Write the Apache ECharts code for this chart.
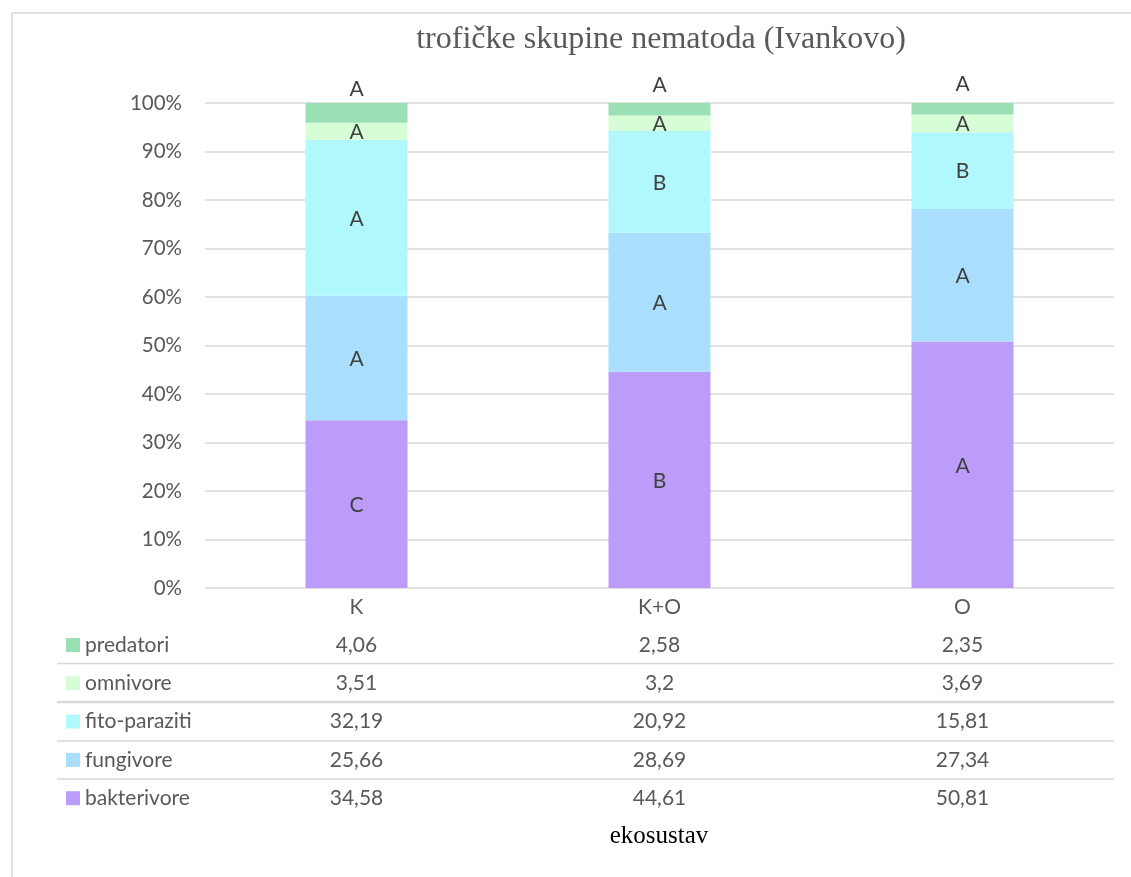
<!DOCTYPE html>
<html>
<head>
<meta charset="utf-8">
<script src="https://cdn.jsdelivr.net/npm/echarts@6/dist/echarts.min.js"></script>
<style>
html,body{margin:0;padding:0;background:#fff;}
#c{width:1131px;height:877px;}
</style>
</head>
<body>
<div id="c"></div>
<script>
const categories = ['K', 'K+O', 'O'];
const seriesNames = ['predatori', 'omnivore', 'fito-paraziti', 'fungivore', 'bakterivore'];
const predatori = [4.06, 2.58, 2.35];
const omnivore = [3.51, 3.2, 3.69];
const fitoParaziti = [32.19, 20.92, 15.81];
const fungivore = [25.66, 28.69, 27.34];
const bakterivore = [34.58, 44.61, 50.81];
const lettersPredatori = ['A', 'A', 'A'];
const lettersOmnivore = ['A', 'A', 'A'];
const lettersFito = ['A', 'B', 'B'];
const lettersFungivore = ['A', 'A', 'A'];
const lettersBakterivore = ['C', 'B', 'A'];
const yTicks = [0, 10, 20, 30, 40, 50, 60, 70, 80, 90, 100];
const colors = {
  'predatori': '#9BDFB5',
  'omnivore': '#D7FDD6',
  'fito-paraziti': '#B1F8FD',
  'fungivore': '#A9DFFD',
  'bakterivore': '#BB9CF8'
};

const valuesByName = {
  'predatori': predatori,
  'omnivore': omnivore,
  'fito-paraziti': fitoParaziti,
  'fungivore': fungivore,
  'bakterivore': bakterivore
};
const lettersByName = {
  'predatori': lettersPredatori,
  'omnivore': lettersOmnivore,
  'fito-paraziti': lettersFito,
  'fungivore': lettersFungivore,
  'bakterivore': lettersBakterivore
};

const FONT = 'Lato, "Noto Sans", sans-serif';
const fmt = v => String(v).replace('.', ',');

const chart = echarts.init(document.getElementById('c'), null, {renderer: 'canvas'});

const stackOrder = ['bakterivore', 'fungivore', 'fito-paraziti', 'omnivore', 'predatori'];
const series = stackOrder.map(name => ({
  name: name,
  type: 'bar',
  stack: 'total',
  barWidth: 102,
  itemStyle: {color: colors[name]},
  data: valuesByName[name],
  label: {
    show: true,
    position: 'inside',
    offset: name === 'predatori' ? [0, -24] : [0, 1],
    fontFamily: FONT,
    fontSize: 21,
    color: '#404040',
    formatter: p => lettersByName[name][p.dataIndex]
  },
  emphasis: {disabled: true}
}));

const tableLines = [663.5, 702, 741, 779];

chart.setOption({
  animation: false,
  backgroundColor: '#fff',
  grid: {left: 205, right: 17, top: 103, bottom: 289, containLabel: false},
  legend: {
    orient: 'vertical',
    left: 61,
    top: 621,
    itemWidth: 14,
    itemHeight: 14,
    itemGap: 0.3,
    icon: 'rect',
    selectedMode: false,
    data: seriesNames,
    textStyle: {fontFamily: FONT, fontSize: 21, color: '#595959', lineHeight: 38}
  },
  xAxis: {
    type: 'category',
    data: categories,
    axisLine: {show: false},
    axisTick: {show: false},
    axisLabel: {
      margin: 0,
      interval: 0,
      fontFamily: FONT,
      fontSize: 21,
      color: '#595959',
      lineHeight: 38.2,
      formatter: (val, idx) => {
        const lines = [val];
        seriesNames.forEach(n => lines.push(fmt(valuesByName[n][idx])));
        return lines.join('\n');
      }
    }
  },
  yAxis: {
    type: 'value',
    min: 0,
    max: 100,
    interval: 10,
    axisLine: {show: false},
    axisTick: {show: false},
    splitLine: {lineStyle: {color: '#D9D9D9', width: 1.5}},
    axisLabel: {
      margin: 23,
      fontFamily: FONT,
      fontSize: 20.5,
      color: '#595959',
      formatter: '{value}%'
    }
  },
  graphic: [
    {
      type: 'rect',
      shape: {x: 12, y: 13, width: 1300, height: 1000},
      style: {fill: 'none', stroke: '#D9D9D9', lineWidth: 1.5},
      silent: true
    },
    {
      type: 'text',
      x: 661, y: 40,
      style: {
        text: 'trofičke skupine nematoda (Ivankovo)',
        font: '32px "Liberation Serif", "Times New Roman", serif',
        fill: '#595959',
        textAlign: 'center',
        textVerticalAlign: 'middle'
      }
    },
    {
      type: 'text',
      x: 659, y: 836,
      style: {
        text: 'ekosustav',
        font: '25px "Liberation Serif", "Times New Roman", serif',
        fill: '#000000',
        textAlign: 'center',
        textVerticalAlign: 'middle'
      }
    }
  ].concat(tableLines.map((y, i) => ({
    type: 'line',
    shape: {x1: 57, y1: y, x2: 1114, y2: y},
    style: {stroke: '#D9D9D9', lineWidth: i === 1 ? 2.5 : 1.5},
    silent: true
  }))),
  series: series
});
</script>
</body>
</html>
